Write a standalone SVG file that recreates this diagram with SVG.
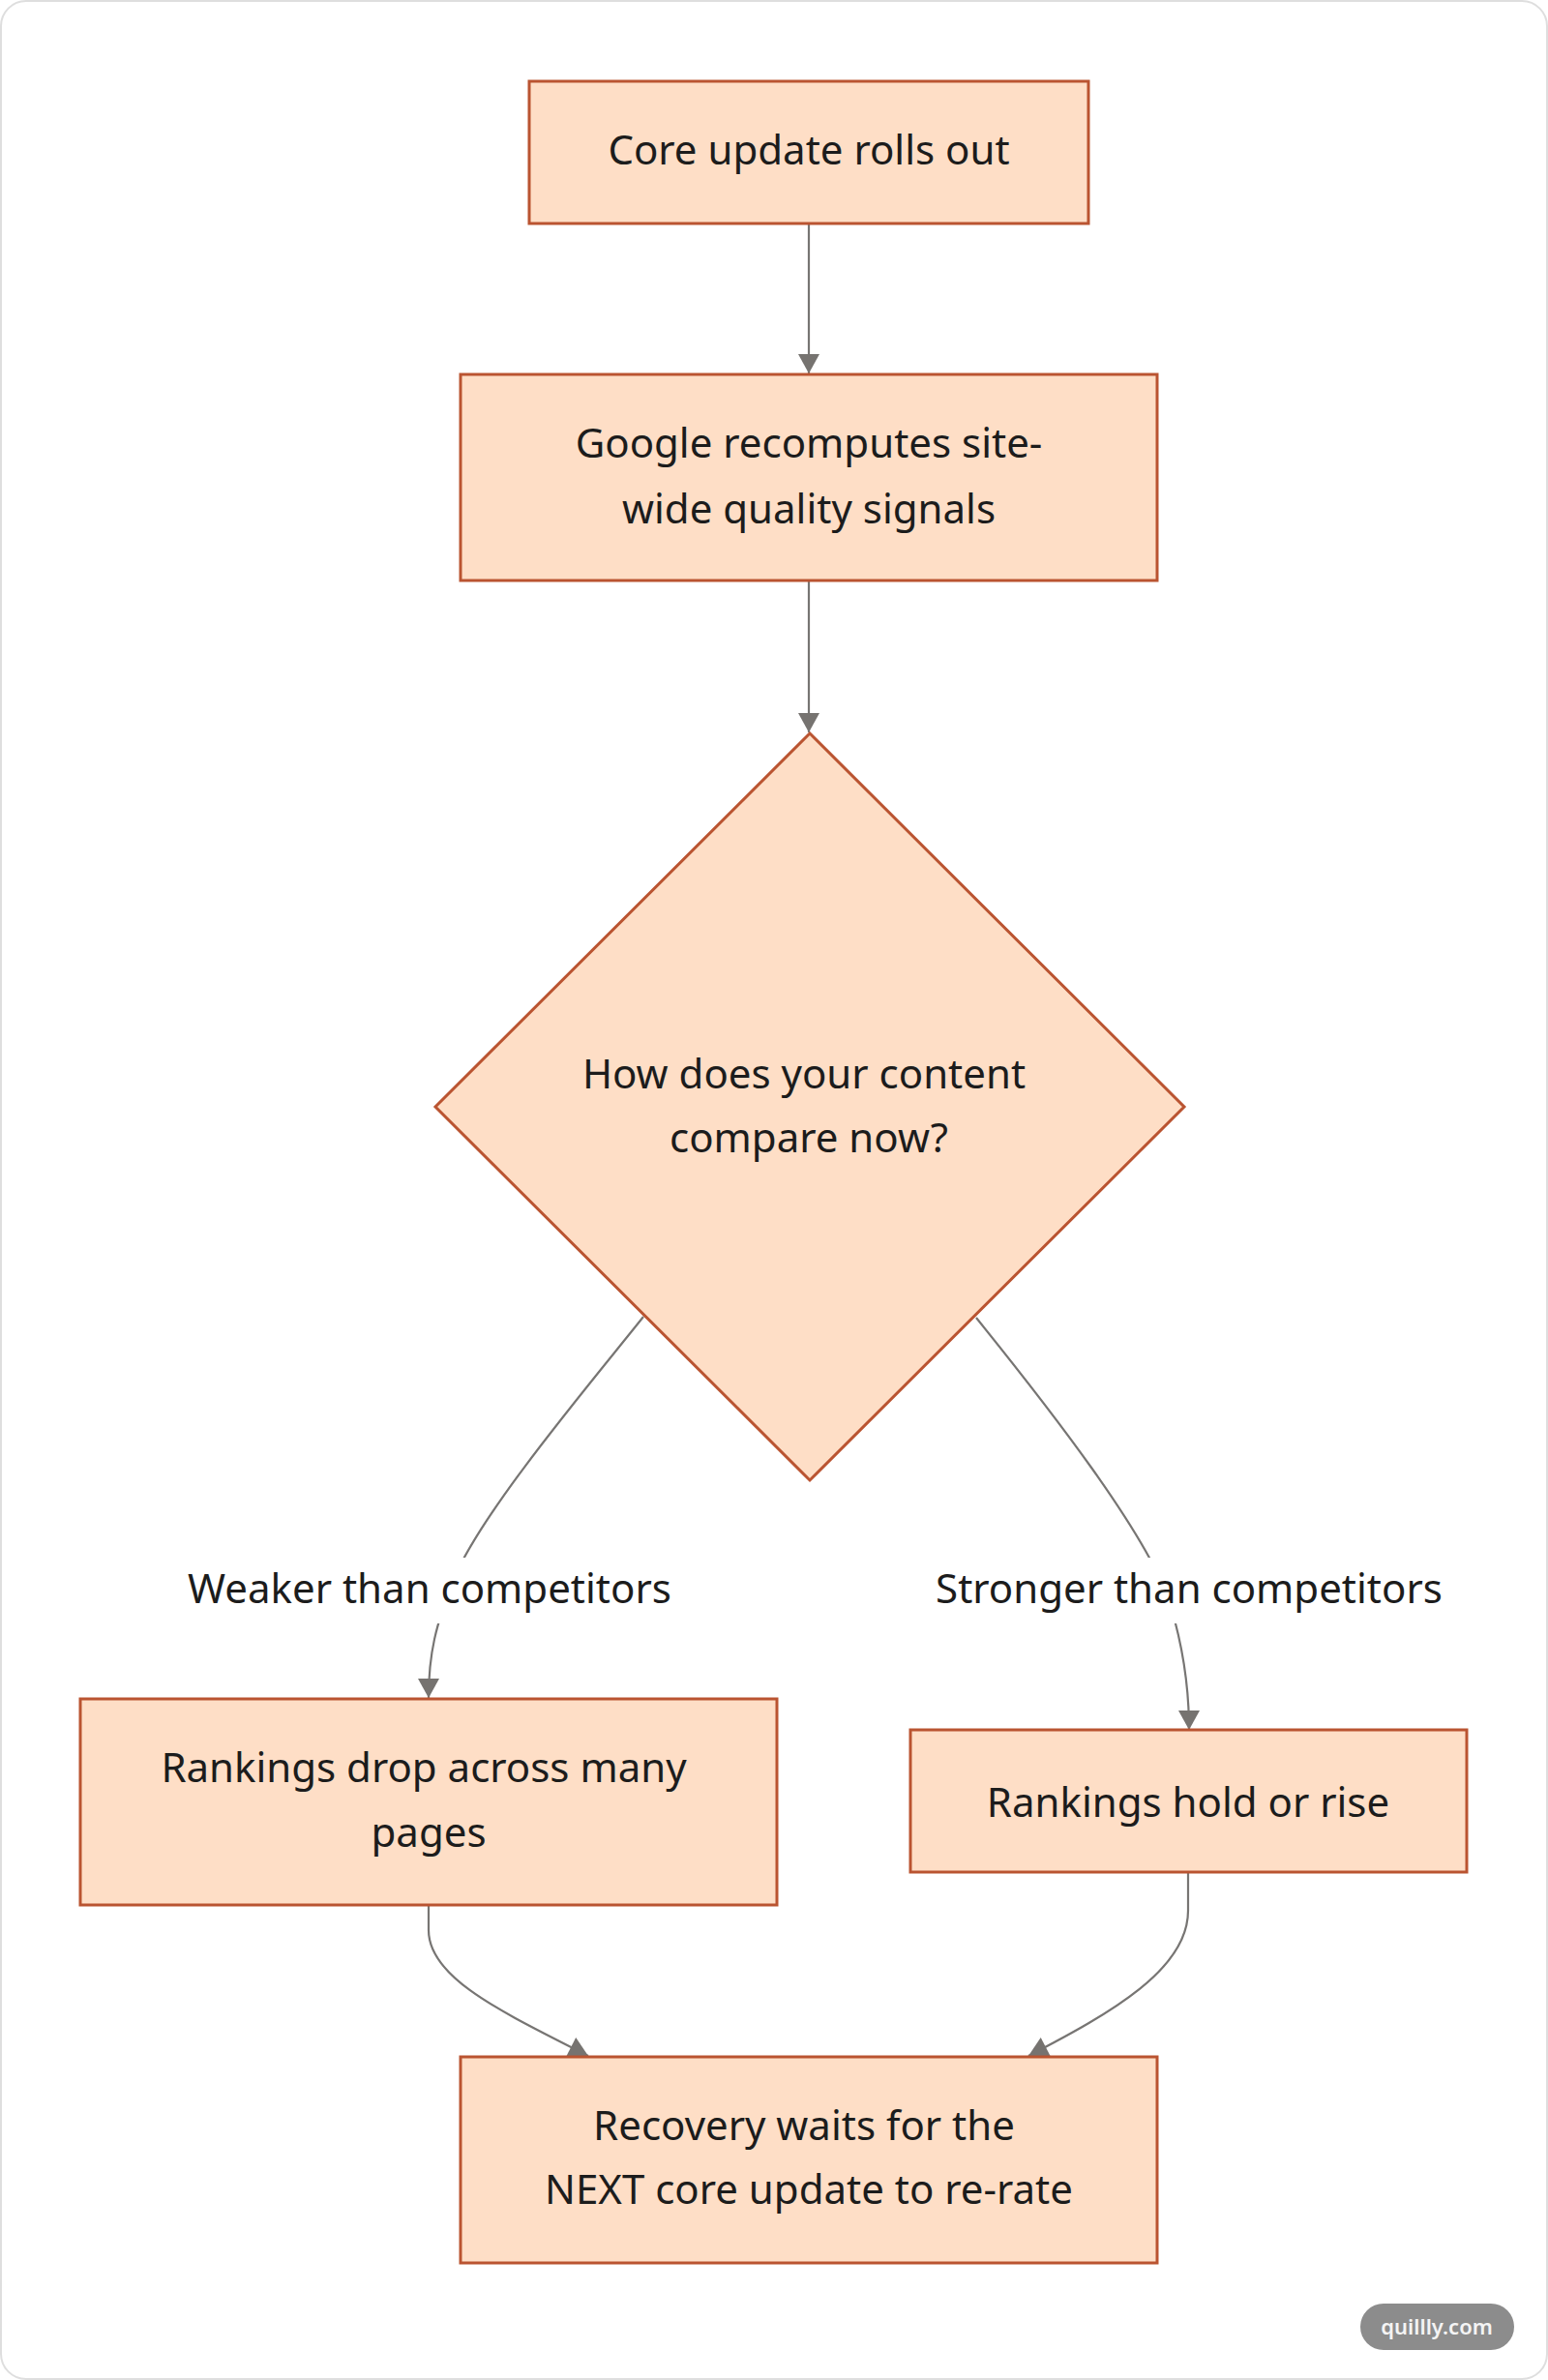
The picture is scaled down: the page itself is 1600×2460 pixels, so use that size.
<svg xmlns="http://www.w3.org/2000/svg" width="1600" height="2460" viewBox="0 0 1600 2460">
  <style>
    .node { fill: #FEDEC6; stroke: #BA5431; stroke-width: 3; }
    .t { font-family: "Noto Sans", "Open Sans", sans-serif; font-size: 42px; fill: #1c1c1c; text-anchor: middle; }
    .edge { fill: none; stroke: #777573; stroke-width: 2.2; }
    .lblbg { fill: #ffffff; }
    .wm { font-family: "Noto Sans", "Open Sans", sans-serif; font-size: 22px; font-weight: 600; fill: #f4f4f4; text-anchor: middle; }
  </style>
  <defs>
    <marker id="arrow" markerUnits="userSpaceOnUse" markerWidth="22" markerHeight="22" viewBox="0 0 20 22" refX="20" refY="11" orient="auto">
      <path d="M0,0 L20,11 L0,22 z" fill="#767370"/>
    </marker>
  </defs>

  <rect x="1" y="1" width="1598" height="2458" rx="26" ry="26" fill="#ffffff" stroke="#dedede" stroke-width="2"/>

  <g id="connectors">
    <path class="edge" d="M836,231 L836,386" marker-end="url(#arrow)"/>
    <path class="edge" d="M836,600 L836,757" marker-end="url(#arrow)"/>
    <path class="edge" d="M665,1361 C610,1430 500,1560 470,1630 C450,1680 443,1710 443,1755" marker-end="url(#arrow)"/>
    <path class="edge" d="M1009,1362 C1080,1450 1190,1590 1210,1660 C1225,1710 1229,1750 1229,1788" marker-end="url(#arrow)"/>
    <path class="edge" d="M443,1969 L443,1995 C443,2045 520,2080 608,2125" marker-end="url(#arrow)"/>
    <path class="edge" d="M1228,1935 L1228,1975 C1228,2035 1150,2080 1063,2125" marker-end="url(#arrow)"/>
    <g id="label-weaker">
      <rect class="lblbg" x="192" y="1610" width="504" height="68"/>
      <text class="t" x="444" y="1657">Weaker than competitors</text>
    </g>
    <g id="label-stronger">
      <rect class="lblbg" x="966" y="1610" width="526" height="68"/>
      <text class="t" x="1229" y="1657">Stronger than competitors</text>
    </g>
  </g>

  <g id="node-core-update">
    <rect class="node" x="547" y="84" width="578" height="147"/>
    <text class="t" x="836" y="170">Core update rolls out</text>
  </g>

  <g id="node-recompute">
    <rect class="node" x="476" y="387" width="720" height="213"/>
    <text class="t" x="836" y="473">Google recomputes site-</text>
    <text class="t" x="836" y="541">wide quality signals</text>
  </g>

  <g id="node-compare">
    <polygon class="node" points="837,758 1224,1144 837,1530 450,1144"/>
    <text class="t" x="831" y="1125">How does your content</text>
    <text class="t" x="836" y="1191">compare now?</text>
  </g>

  <g id="node-drop">
    <rect class="node" x="83" y="1756" width="720" height="213"/>
    <text class="t" x="438" y="1842">Rankings drop across many</text>
    <text class="t" x="443" y="1909">pages</text>
  </g>

  <g id="node-hold">
    <rect class="node" x="941" y="1788" width="575" height="147"/>
    <text class="t" x="1228" y="1878">Rankings hold or rise</text>
  </g>

  <g id="node-recovery">
    <rect class="node" x="476" y="2126" width="720" height="213"/>
    <text class="t" x="831" y="2212">Recovery waits for the</text>
    <text class="t" x="836" y="2278">NEXT core update to re-rate</text>
  </g>

  <g id="watermark">
    <rect x="1406" y="2381" width="159" height="48" rx="24" ry="24" fill="#8c8c8c"/>
    <text class="wm" x="1485" y="2413">quillly.com</text>
  </g>
</svg>
